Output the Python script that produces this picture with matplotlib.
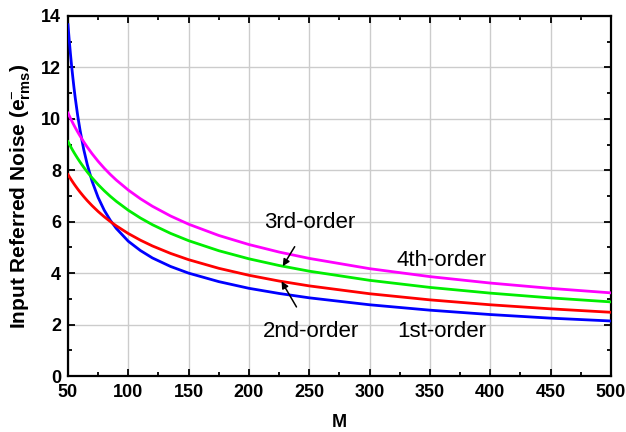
import numpy as np
import matplotlib
matplotlib.use("Agg")
import matplotlib.pyplot as plt
import matplotlib.ticker as ticker

plt.rcParams.update({
    "font.family": "Liberation Sans",
    "mathtext.fontset": "custom",
    "mathtext.rm": "Liberation Sans",
    "mathtext.bf": "Liberation Sans:bold",
    "mathtext.it": "Liberation Sans:italic",
})

# oversampling ratio M
M = [50, 51, 52, 53, 54, 55, 56, 58, 60, 63, 66, 70, 75, 80, 85, 90, 100, 110,
     120, 135, 150, 175, 200, 225, 250, 300, 350, 400, 450, 500]

# input referred noise (e- rms) for each modulator order
noise_1st = [13.66, 13.08, 12.55, 12.06, 11.62, 11.20, 10.82, 10.14, 9.56,
             8.82, 8.22, 7.57, 6.94, 6.45, 6.06, 5.74, 5.24, 4.88, 4.59, 4.26,
             4.00, 3.67, 3.41, 3.21, 3.04, 2.77, 2.56, 2.39, 2.25, 2.14]
noise_2nd = [7.835, 7.757, 7.683, 7.610, 7.539, 7.470, 7.403, 7.274, 7.152,
             6.980, 6.819, 6.622, 6.397, 6.194, 6.009, 5.840, 5.540, 5.282,
             5.057, 4.768, 4.523, 4.188, 3.917, 3.693, 3.504, 3.199, 2.961,
             2.770, 2.612, 2.478]
noise_3rd = [9.115, 9.025, 8.938, 8.853, 8.770, 8.690, 8.613, 8.463, 8.320,
             8.120, 7.933, 7.703, 7.442, 7.206, 6.991, 6.794, 6.445, 6.145,
             5.883, 5.547, 5.262, 4.872, 4.557, 4.297, 4.076, 3.721, 3.445,
             3.223, 3.038, 2.882]
noise_4th = [10.225, 10.124, 10.026, 9.931, 9.839, 9.749, 9.662, 9.493, 9.334,
             9.109, 8.900, 8.642, 8.348, 8.083, 7.842, 7.621, 7.230, 6.894,
             6.600, 6.223, 5.903, 5.465, 5.112, 4.820, 4.573, 4.174, 3.865,
             3.615, 3.408, 3.233]

fig = plt.figure(figsize=(6.26, 4.32), dpi=100)
ax = fig.add_axes([0.1086, 0.1296, 0.8674, 0.8334])

ax.plot(M, noise_1st, color="#0000FF", lw=2.0, zorder=3)
ax.plot(M, noise_2nd, color="#FF0000", lw=2.0, zorder=3)
ax.plot(M, noise_3rd, color="#00EE00", lw=2.0, zorder=3)
ax.plot(M, noise_4th, color="#FF00FF", lw=2.0, zorder=3)

ax.set_xlim(50, 500)
ax.set_ylim(0, 14)
ax.xaxis.set_major_locator(ticker.MultipleLocator(50))
ax.xaxis.set_minor_locator(ticker.MultipleLocator(25))
ax.yaxis.set_major_locator(ticker.MultipleLocator(2))
ax.yaxis.set_minor_locator(ticker.MultipleLocator(1))
ax.grid(True, which="major", color="#CCCCCC", lw=1.0, zorder=0)
ax.set_axisbelow(True)

for s in ax.spines.values():
    s.set_linewidth(1.6)
ax.tick_params(which="both", direction="in", top=True, right=True, width=1.3)
ax.tick_params(which="major", length=5, labelsize=13)
ax.tick_params(axis="x", which="major", pad=6)
ax.tick_params(axis="y", which="major", pad=5)
ax.tick_params(which="minor", length=3)
for lab in ax.get_xticklabels() + ax.get_yticklabels():
    lab.set_fontweight("bold")

ax.set_xlabel("M", fontsize=13, fontweight="bold", labelpad=9)
ax.set_ylabel(r"Input Referred Noise (e$^{-}_{\mathregular{rms}}$)",
              fontsize=15, fontweight="bold", labelpad=6)

txt = dict(fontsize=16, ha="center", va="center")
ax.text(360, 4.51, "4th-order", **txt)
ax.text(360, 1.72, "1st-order", **txt)
ax.annotate("3rd-order", xy=(228, 4.27), xytext=(250, 5.96),
            arrowprops=dict(arrowstyle="-|>", color="black", lw=1.1,
                            shrinkA=9, shrinkB=0, mutation_scale=10), **txt)
ax.annotate("2nd-order", xy=(227, 3.68), xytext=(251, 1.75),
            arrowprops=dict(arrowstyle="-|>", color="black", lw=1.1,
                            shrinkA=9, shrinkB=0, mutation_scale=10), **txt)

fig.savefig("out.png", dpi=100)
